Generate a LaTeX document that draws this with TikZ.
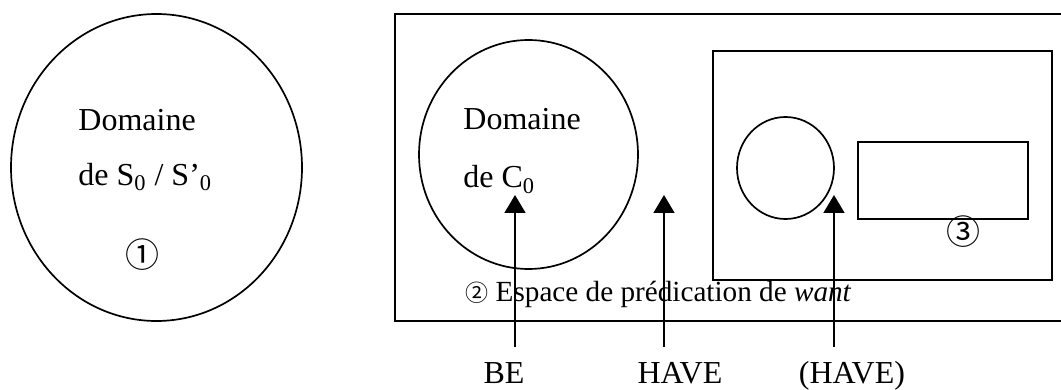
\documentclass[tikz,border=0pt]{standalone}
\usepackage{fontspec}
\setmainfont{Liberation Serif}
\newfontfamily\circfont{Noto Sans CJK JP}
\usetikzlibrary{positioning,shapes.geometric,arrows.meta}

\begin{document}
\begin{tikzpicture}[
    x=0.5pt, y=-0.5pt,
    font=\fontsize{16}{19}\selectfont,
    zone/.style={ellipse, draw, line width=0.85pt, inner sep=0pt},
    frame/.style={rectangle, draw, line width=1pt, inner sep=0pt},
    txt/.style={anchor=base west, inner sep=0pt},
    num/.style={font=\circfont\fontsize{17}{20}\selectfont, inner sep=0pt},
    verb/.style={anchor=base, inner sep=0pt},
    arrow/.style={-{Triangle[width=10.5pt,length=9pt]}, line width=0.85pt}
]
    \useasboundingbox (0,0) rectangle (1061,390);
    \clip (0,0) rectangle (1061,390);

    % domaine de S0
    \node[zone, minimum width=145.5pt, minimum height=153.5pt] (domS) at (156.5,167.5) {};
    \node[txt] (domSa) at (78,131) {Domaine};
    \node[txt] (domSb) at (78,185) {de S\textsubscript{0} / S’\textsubscript{0}};
    \node[num] (one) at (142,255) {①};

    % espace de predication
    \node[frame, minimum width=337.5pt, minimum height=153.5pt] (espace) at (732.5,167.5) {};
    \node[zone, minimum width=109.5pt, minimum height=114.5pt] (domC) at (528.5,154.5) {};
    \node[txt] (domCa) at (463,130) {Domaine};
    \node[txt] (domCb) at (463,188) {de C\textsubscript{0}};
    \node[txt, font=\fontsize{14.6}{17}\selectfont] (two) at (465,301) {{\circfont\fontsize{11.5}{14}\selectfont ②} Espace de prédication de \textit{want}};

    % sous-espace
    \node[frame, minimum width=169.5pt, minimum height=114.5pt] (inner) at (882.5,165.5) {};
    \node[zone, minimum width=48.5pt, minimum height=51pt] (small) at (785.5,168) {};
    \node[frame, minimum width=85pt, minimum height=38.5pt] (box) at (943,180.5) {};
    \node[num] (three) at (963,232) {③};

    % labels
    \node[verb] (be) at (504,383) {BE};
    \node[verb] (have) at (680,383) {HAVE};
    \node[verb] (haveb) at (852,383) {(HAVE)};

    \coordinate (beFoot) at (515,347);
    \coordinate (beTip) at (515,195);
    \coordinate (haveFoot) at (664,347);
    \coordinate (haveTip) at (664,195);
    \coordinate (havebFoot) at (834,347);
    \coordinate (havebTip) at (834,195);

    \draw[arrow] (beFoot) -- (beTip);
    \draw[arrow] (haveFoot) -- (haveTip);
    \draw[arrow] (havebFoot) -- (havebTip);
\end{tikzpicture}
\end{document}
